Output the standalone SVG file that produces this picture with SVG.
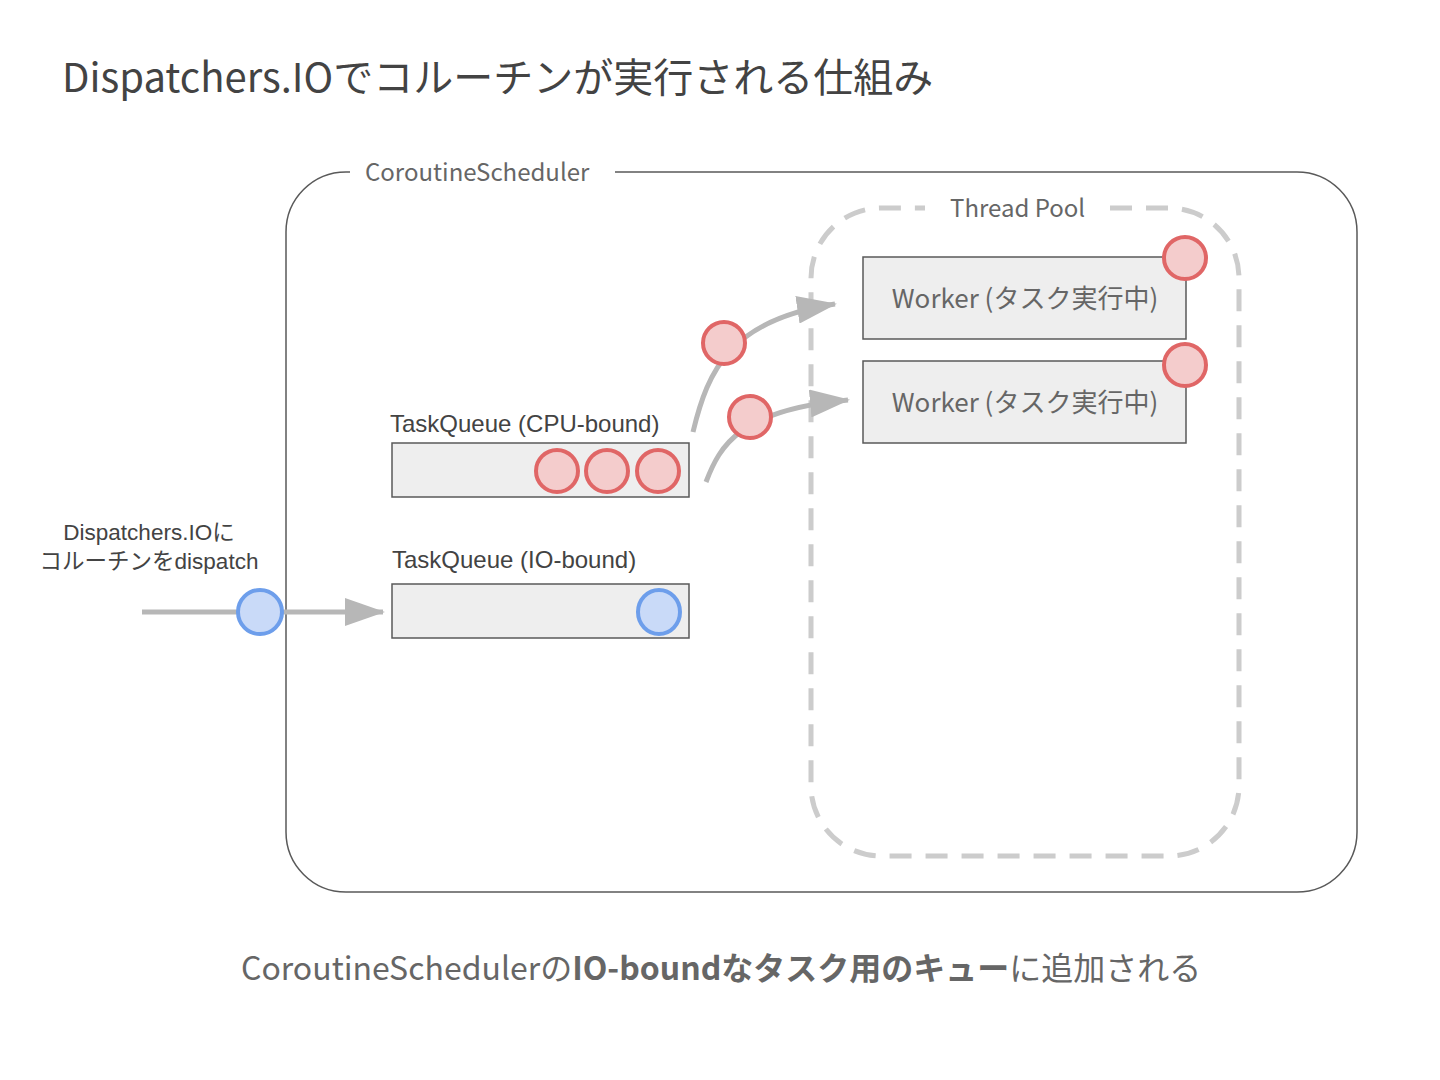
<svg xmlns="http://www.w3.org/2000/svg" width="1440" height="1080" viewBox="0 0 1440 1080">
<defs>
<style>
.jp{font-family:"Noto Sans CJK JP","Noto Sans",sans-serif}
.ar{font-family:"Liberation Sans","Noto Sans CJK JP",sans-serif}
.box{fill:#eeeeee;stroke:#595959;stroke-width:1.5}
.red{fill:#f4cccc;stroke:#e06666;stroke-width:4}
.blue{fill:#c9daf8;stroke:#6d9eeb;stroke-width:4}
.conn{fill:none;stroke:#b7b7b7;stroke-width:5}
</style>
<marker id="ah" markerUnits="userSpaceOnUse" markerWidth="40" markerHeight="28" refX="38" refY="14" orient="auto">
<path d="M0,0 L40,14 L0,28 z" fill="#b7b7b7"/>
</marker>
</defs>
<rect width="1440" height="1080" fill="#ffffff"/>
<text class="jp" x="62" y="92" font-size="40" fill="#434343">Dispatchers.IOでコルーチンが実行される仕組み</text>

<g id="scheduler">
<path d="M 615 172 H 1297 A 60 60 0 0 1 1357 232 V 832 A 60 60 0 0 1 1297 892 H 346 A 60 60 0 0 1 286 832 V 232 A 60 60 0 0 1 346 172 H 350" fill="none" stroke="#595959" stroke-width="1.5"/>
<text class="jp" x="365" y="181" font-size="24" fill="#666666">CoroutineScheduler</text>
</g>

<g id="threadpool">
<path d="M 1110 208 H 1169 A 70 70 0 0 1 1239 278 V 786 A 70 70 0 0 1 1169 856 H 881 A 70 70 0 0 1 811 786 V 278 A 70 70 0 0 1 881 208 H 925" fill="none" stroke="#cccccc" stroke-width="5" stroke-dasharray="22 14"/>
<text class="jp" x="950" y="217" font-size="24" fill="#666666">Thread Pool</text>
</g>

<g id="connectors">
<line class="conn" x1="142" y1="612" x2="383" y2="612" marker-end="url(#ah)"/>
<path class="conn" d="M 693 432 C 708 370, 730 320, 835 304" marker-end="url(#ah)"/>
<path class="conn" d="M 706 482 C 720 445, 740 410, 848 400" marker-end="url(#ah)"/>
</g>

<g id="worker1">
<rect class="box" x="863" y="257" width="323" height="82"/>
<text class="jp" x="1025" y="308" font-size="26" fill="#666666" text-anchor="middle">Worker (タスク実行中)</text>
<circle class="red" cx="1185" cy="258" r="21"/>
</g>
<g id="worker2">
<rect class="box" x="863" y="361" width="323" height="82"/>
<text class="jp" x="1025" y="412" font-size="26" fill="#666666" text-anchor="middle">Worker (タスク実行中)</text>
<circle class="red" cx="1185" cy="365" r="21"/>
</g>

<g id="cpuqueue">
<text class="ar" x="390" y="432" font-size="24" fill="#434343">TaskQueue (CPU-bound)</text>
<rect class="box" x="392" y="443" width="297" height="54"/>
<circle class="red" cx="557" cy="471" r="21"/>
<circle class="red" cx="607" cy="471" r="21"/>
<circle class="red" cx="658" cy="471" r="21"/>
</g>

<g id="ioqueue">
<text class="ar" x="392" y="568" font-size="24" fill="#434343">TaskQueue (IO-bound)</text>
<rect class="box" x="392" y="584" width="297" height="54"/>
<ellipse class="blue" cx="659" cy="612" rx="21" ry="22"/>
</g>

<g id="moving-tasks">
<circle class="red" cx="724" cy="343" r="21"/>
<circle class="red" cx="750" cy="417" r="21"/>
<ellipse class="blue" cx="260" cy="612" rx="22" ry="22"/>
</g>

<g id="dispatch-label">
<text class="ar" x="149" y="540" font-size="22.5" fill="#434343" text-anchor="middle">Dispatchers.IOに</text>
<text class="ar" x="149" y="569" font-size="22.5" fill="#434343" text-anchor="middle">コルーチンをdispatch</text>
</g>

<text class="jp" x="241" y="980" font-size="32" fill="#666666">CoroutineSchedulerの<tspan font-weight="bold">IO-boundなタスク用のキュー</tspan>に追加される</text>
</svg>
